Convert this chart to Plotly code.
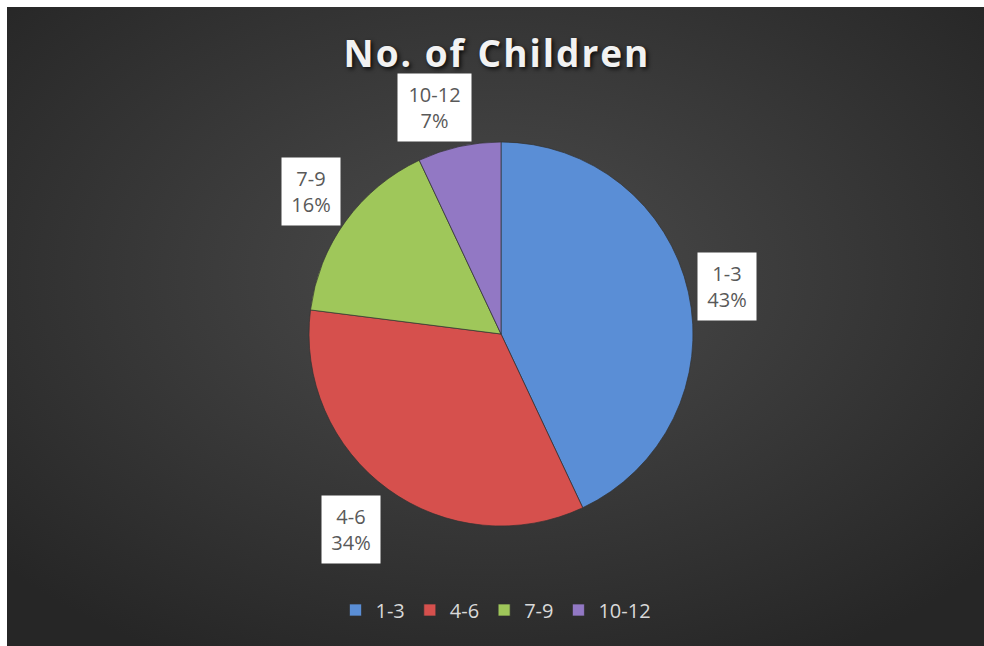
import base64
import math
import plotly.graph_objects as go

# ---- data ----
categories = ["1-3", "4-6", "7-9", "10-12"]
shares = [43, 34, 16, 7]
title_text = "No. of Children"

# ---- style ----
colors = ["#5a8ed6", "#d6504d", "#9fc75a", "#9278c4"]
W, H = 984, 646
FRAME = 7                                  # white frame at top/left
pie_cx, pie_cy, pie_r = 501, 334, 192      # pixels
label_factor = 1.23
label_nudge = {"1-3": (-4, 4), "4-6": (-11, 4), "7-9": (1, -4), "10-12": (-15, 4)}
box_w = {"1-3": 58, "4-6": 58, "7-9": 58, "10-12": 73}
box_h = 67

cw, ch = W - FRAME, H - FRAME
svg = f'''<svg xmlns="http://www.w3.org/2000/svg" width="{cw}" height="{ch}" viewBox="0 0 {cw} {ch}" preserveAspectRatio="none">
<defs><radialGradient id="g" cx="50%" cy="42%" r="68%">
<stop offset="0" stop-color="#4c4c4c"/><stop offset="1" stop-color="#262626"/></radialGradient></defs>
<rect x="0" y="0" width="{cw}" height="{ch}" fill="url(#g)"/></svg>'''
bg_uri = "data:image/svg+xml;base64," + base64.b64encode(svg.encode()).decode()

fig = go.Figure()
fig.add_trace(go.Pie(
    labels=categories,
    values=shares,
    sort=False,
    direction="clockwise",
    rotation=0,
    textinfo="none",
    hoverinfo="label+percent",
    marker=dict(colors=colors, line=dict(color="rgba(50,50,50,0.7)", width=1)),
    domain=dict(x=[(pie_cx - pie_r) / W, (pie_cx + pie_r) / W],
                y=[1 - (pie_cy + pie_r) / H, 1 - (pie_cy - pie_r) / H]),
    showlegend=True,
))

# data labels placed at the mid-angle of each slice
total = sum(shares)
cum = 0
annotations = []
for cat, v in zip(categories, shares):
    mid = (cum + v / 2) / total * 2 * math.pi
    cum += v
    dx, dy = label_nudge[cat]
    px = pie_cx + label_factor * pie_r * math.sin(mid) + dx
    py = pie_cy - label_factor * pie_r * math.cos(mid) + dy
    annotations.append(dict(
        x=px / W, y=1 - py / H, xref="paper", yref="paper",
        text=f"{cat}<br>{round(v / total * 100)}%",
        showarrow=False, xanchor="center", yanchor="middle",
        width=box_w[cat], height=box_h, borderpad=0,
        bgcolor="white", align="center", valign="middle",
        font=dict(family="Open Sans", size=20, color="#595959"),
    ))

fig.update_layout(
    width=W, height=H,
    margin=dict(l=0, r=0, t=0, b=0),
    paper_bgcolor="white",
    images=[dict(source=bg_uri, xref="paper", yref="paper", x=FRAME / W, y=1 - FRAME / H,
                 sizex=cw / W, sizey=ch / H, sizing="stretch", layer="below",
                 xanchor="left", yanchor="top")],
    title=dict(text=title_text, x=0.5 + 5 / W, xanchor="center", y=1 - 54 / H, yanchor="middle",
               font=dict(family="Open Sans", size=37, color="#f2f2f2", weight="bold",
                         shadow="2px 2px 4px rgba(0,0,0,0.8)")),
    annotations=annotations,
    legend=dict(orientation="h", x=0.5 + 4 / W, xanchor="center", y=1 - 610 / H, yanchor="middle",
                font=dict(family="Open Sans", size=20, color="#d9d9d9"),
                itemwidth=30, bgcolor="rgba(0,0,0,0)"),
)

post = """
document.body.style.margin = '0';
document.documentElement.style.overflow = 'hidden';
var t = document.querySelector('.gtitle');
if (t) { t.style.letterSpacing = '2px'; }
"""
fig.write_html("out.html", post_script=post, config={"displayModeBar": False})
